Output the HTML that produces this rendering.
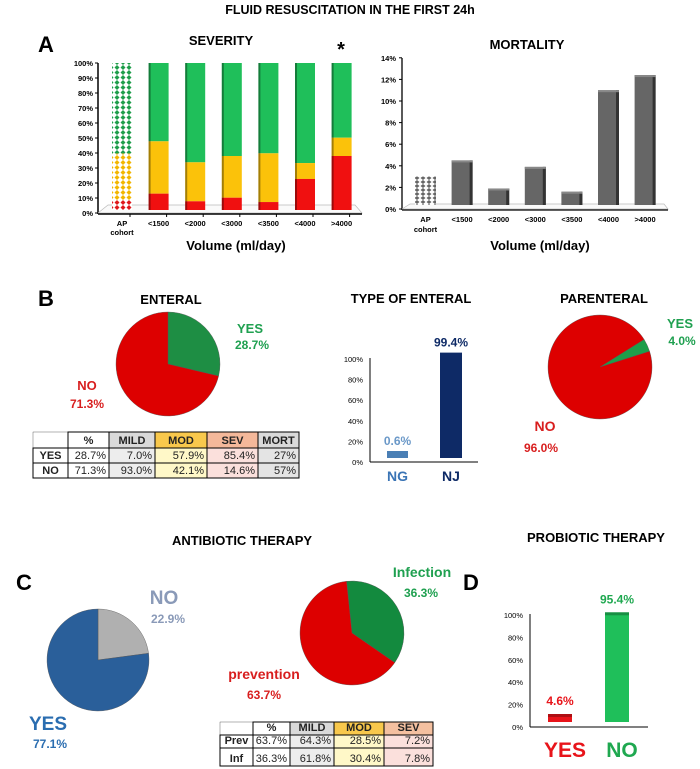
<!DOCTYPE html>
<html><head><meta charset="utf-8"><style>
body{margin:0;background:#fff}
svg{display:block;font-family:"Liberation Sans",Arial,sans-serif}
</style></head><body>
<svg id="fig" width="700" height="769" viewBox="0 0 700 769">
<defs>
<pattern id="dotG" width="6" height="5" patternUnits="userSpaceOnUse"><rect width="6" height="5" fill="#fff"/><path d="M3 0L5.5 2.5L3 5L0.5 2.5Z" fill="#1e9e4a"/></pattern>
<pattern id="dotO" width="6" height="5" patternUnits="userSpaceOnUse"><rect width="6" height="5" fill="#fff"/><path d="M3 0L5.5 2.5L3 5L0.5 2.5Z" fill="#f2b600"/></pattern>
<pattern id="dotR" width="6" height="5" patternUnits="userSpaceOnUse"><rect width="6" height="5" fill="#fff"/><path d="M3 0L5.5 2.5L3 5L0.5 2.5Z" fill="#e0181b"/></pattern>
<pattern id="dotK" width="6" height="4" patternUnits="userSpaceOnUse"><rect width="6" height="4" fill="#fff"/><path d="M3 0L5.5 2L3 4L0.5 2Z" fill="#666"/></pattern>
</defs>
<text x="350" y="14" text-anchor="middle" font-size="12.5" font-weight="bold">FLUID RESUSCITATION IN THE FIRST 24h</text>
<text x="38" y="52" font-size="22" font-weight="bold">A</text>
<text x="221" y="45" text-anchor="middle" font-size="13" font-weight="bold">SEVERITY</text>
<text x="341" y="56" text-anchor="middle" font-size="20" font-weight="bold">*</text>
<text x="527" y="49" text-anchor="middle" font-size="13" font-weight="bold">MORTALITY</text>
<g id="sev"></g>
<g id="mort"></g>

<text x="38" y="306" font-size="22" font-weight="bold">B</text>
<text x="171" y="304" text-anchor="middle" font-size="13" font-weight="bold">ENTERAL</text>
<text x="411" y="303" text-anchor="middle" font-size="13" font-weight="bold">TYPE OF ENTERAL</text>
<text x="604" y="303" text-anchor="middle" font-size="13" font-weight="bold">PARENTERAL</text>
<g id="pieEnt"></g>
<text x="250" y="333" text-anchor="middle" font-size="13" font-weight="bold" fill="#1fa050">YES</text>
<text x="252" y="349" text-anchor="middle" font-size="12" font-weight="bold" fill="#1fa050">28.7%</text>
<text x="87" y="390" text-anchor="middle" font-size="13" font-weight="bold" fill="#d81e1e">NO</text>
<text x="87" y="408" text-anchor="middle" font-size="12" font-weight="bold" fill="#d81e1e">71.3%</text>
<g id="tblB"></g>
<g id="typeEnt"></g>
<g id="piePar"></g>
<text x="680" y="328" text-anchor="middle" font-size="13" font-weight="bold" fill="#1fa050">YES</text>
<text x="682" y="345" text-anchor="middle" font-size="12" font-weight="bold" fill="#1fa050">4.0%</text>
<text x="545" y="431" text-anchor="middle" font-size="14" font-weight="bold" fill="#d81e1e">NO</text>
<text x="541" y="452" text-anchor="middle" font-size="12" font-weight="bold" fill="#d81e1e">96.0%</text>

<text x="242" y="545" text-anchor="middle" font-size="13" font-weight="bold">ANTIBIOTIC THERAPY</text>
<text x="596" y="542" text-anchor="middle" font-size="13" font-weight="bold">PROBIOTIC THERAPY</text>
<text x="16" y="590" font-size="22" font-weight="bold">C</text>
<text x="463" y="590" font-size="22" font-weight="bold">D</text>
<g id="pieAb"></g>
<text x="164" y="604" text-anchor="middle" font-size="19" font-weight="bold" fill="#8a9ab8">NO</text>
<text x="168" y="623" text-anchor="middle" font-size="12" font-weight="bold" fill="#8a9ab8">22.9%</text>
<text x="48" y="730" text-anchor="middle" font-size="19" font-weight="bold" fill="#2a6db0">YES</text>
<text x="50" y="748" text-anchor="middle" font-size="12" font-weight="bold" fill="#2a6db0">77.1%</text>
<g id="pieInf"></g>
<text x="422" y="577" text-anchor="middle" font-size="14" font-weight="bold" fill="#1fa050">Infection</text>
<text x="421" y="597" text-anchor="middle" font-size="12" font-weight="bold" fill="#1fa050">36.3%</text>
<text x="264" y="679" text-anchor="middle" font-size="14" font-weight="bold" fill="#d81e1e">prevention</text>
<text x="264" y="699" text-anchor="middle" font-size="12" font-weight="bold" fill="#d81e1e">63.7%</text>
<g id="tblC"></g>
<g id="prob"></g>
</svg>
<script>
const NS='http://www.w3.org/2000/svg';
function mk(p,tag,at,txt){const e=document.createElementNS(NS,tag);for(const k in at)e.setAttribute(k,at[k]);if(txt!==undefined)e.textContent=txt;p.appendChild(e);return e;}

// ---- Severity data ----
const sevCats=['AP','<1500','<2000','<3000','<3500','<4000','>4000'];
const sevSevere=[8.4,12.9,7.8,10.2,7.3,22.7,38];
const sevModerate=[31.2,34.9,26,27.8,32.5,10.6,12.2];
const sevTicks=[0,10,20,30,40,50,60,70,80,90,100];
// ---- Mortality data ----
const mortCats=['AP','<1500','<2000','<3000','<3500','<4000','>4000'];
const mortValues=[3.0,4.5,1.9,3.9,1.6,11.0,12.4];
const mortTicks=[0,2,4,6,8,10,12,14];
// ---- Pies ----
const enteralValues=[28.7,71.3];
const parenteralValues=[4.0,96.0];
const antibioticValues=[22.9,77.1];
const indicationValues=[36.3,63.7];
// ---- Bars ----
const typeCats=['NG','NJ'];
const typeValues=[0.6,99.4];
const typeTicks=[0,20,40,60,80,100];
const probCats=['YES','NO'];
const probValues=[4.6,95.4];

// Severity chart
(function(){
 const g=document.getElementById('sev');
 const y=v=>213-v*1.5, x0=98, step=36.6, bw=20;
 const bx=i=>112+i*step;
 mk(g,'line',{x1:x0,y1:63,x2:x0,y2:214,stroke:'#000','stroke-width':1.5});
 mk(g,'polygon',{points:'98,213 108,205 355,205 362,213',fill:'#fafafa',stroke:'#bbb','stroke-width':0.7});
 mk(g,'line',{x1:x0,y1:214,x2:362,y2:214,stroke:'#000','stroke-width':1.5});
 sevTicks.forEach(t=>{
  const tk=mk(g,'text',{x:x0-5,y:y(t)+3,'text-anchor':'end','font-size':7.5,'font-weight':'bold'},t+'%');
  
  
  mk(g,'line',{x1:x0-3,y1:y(t),x2:x0,y2:y(t),stroke:'#000'});
 });
 sevCats.forEach((c,i)=>{
  const s=sevSevere[i],m=sevModerate[i],x=bx(i);
  const pat=i===0;
  const r1=mk(g,'rect',{x:x,y:y(100),width:bw,height:y(s+m)-y(100),fill:pat?'url(#dotG)':'#1fbf5a'});
  
  
  const r2=mk(g,'rect',{x:x,y:y(s+m),width:bw,height:y(s)-y(s+m),fill:pat?'url(#dotO)':'#fbc20a'});
  
  
  const r3=mk(g,'rect',{x:x,y:y(s),width:bw,height:y(0)-y(s)-3,fill:pat?'url(#dotR)':'#f01010'});
  
  
  if(!pat) mk(g,'rect',{x:x,y:y(100),width:2,height:y(0)-y(100)-3,fill:'#000',opacity:0.35});
  mk(g,'line',{x1:x+bw/2+8,y1:214,x2:x+bw/2+8,y2:217,stroke:'#000'});
  const l=mk(g,'text',{x:x+bw/2,y:226,'text-anchor':'middle','font-size':7.5,'font-weight':'bold'},c);
  
  
 });
 mk(g,'text',{x:x0+24,y:235,'text-anchor':'middle','font-size':7.5,'font-weight':'bold'},'cohort');
 const t=mk(g,'text',{x:236,y:250,'text-anchor':'middle','font-size':13,'font-weight':'bold'},'Volume (ml/day)');
 
 
})();

// Mortality chart
(function(){
 const g=document.getElementById('mort');
 const y=v=>209-v*10.8, x0=402, step=36.6, bw=21;
 const bx=i=>415+i*step;
 mk(g,'line',{x1:x0,y1:58,x2:x0,y2:210,stroke:'#000','stroke-width':1.3});
 mk(g,'polygon',{points:'402,209 410,204 664,204 668,209',fill:'#fafafa',stroke:'#bbb','stroke-width':0.7});
 mk(g,'line',{x1:x0,y1:210,x2:668,y2:210,stroke:'#000','stroke-width':1.3});
 mortTicks.forEach(t=>{
  const tk=mk(g,'text',{x:x0-6,y:y(t)+3,'text-anchor':'end','font-size':7.5,'font-weight':'bold'},t+'%');
  
  
  mk(g,'line',{x1:x0-3,y1:y(t),x2:x0,y2:y(t),stroke:'#000'});
 });
 mortCats.forEach((c,i)=>{
  const v=mortValues[i],x=bx(i);
  const r=mk(g,'rect',{x:x,y:y(v),width:bw,height:y(0)-y(v)-4,fill:i===0?'url(#dotK)':'#666'});
  
  
  if(i>0){mk(g,'rect',{x:x+bw-3,y:y(v),width:3,height:y(0)-y(v)-4,fill:'#333'});mk(g,'rect',{x:x,y:y(v),width:bw,height:2,fill:'#888'});}
  const l=mk(g,'text',{x:x+bw/2,y:222,'text-anchor':'middle','font-size':7.5,'font-weight':'bold'},c);
  
  
 });
 mk(g,'text',{x:bx(0)+bw/2,y:232,'text-anchor':'middle','font-size':7.5,'font-weight':'bold'},'cohort');
 const t=mk(g,'text',{x:540,y:250,'text-anchor':'middle','font-size':13,'font-weight':'bold'},'Volume (ml/day)');
 
 
})();

// Pies
function pie(id,cx,cy,r,vals,cols,startDeg,names){
 const g=document.getElementById(id);
 const tot=vals.reduce((a,b)=>a+b,0);
 let a=startDeg*Math.PI/180;
 vals.forEach((v,i)=>{
  const a2=a+v/tot*2*Math.PI;
  const p=(an)=>[cx+r*Math.sin(an),cy-r*Math.cos(an)];
  const [x1,y1]=p(a),[x2,y2]=p(a2);
  const large=(a2-a)>Math.PI?1:0;
  const s=mk(g,'path',{d:`M${cx},${cy}L${x1},${y1}A${r},${r} 0 ${large} 1 ${x2},${y2}Z`,fill:cols[i],stroke:'#555','stroke-width':0.4});
  
  
  a=a2;
 });
}
pie('pieEnt',168,364,52,enteralValues,['#1e8e44','#dd0000'],0,['slice-yes','slice-no']);
pie('piePar',600,367,52,parenteralValues,['#1e9e4a','#dd0000'],58,['slice-yes','slice-no']);
pie('pieAb',98,660,51,antibioticValues,['#b0b0b0','#2a5f9a'],0,['slice-no','slice-yes']);
pie('pieInf',352,633,52,indicationValues,['#138a3e','#dd0000'],-6,['slice-infection','slice-prevention']);

// Type of enteral
(function(){
 const g=document.getElementById('typeEnt');
 const y=v=>462-v*1.03, x0=370;
 mk(g,'line',{x1:x0,y1:358,x2:x0,y2:462,stroke:'#000'});
 mk(g,'line',{x1:x0,y1:462,x2:478,y2:462,stroke:'#000'});
 typeTicks.forEach(t=>{
  const tk=mk(g,'text',{x:x0-7,y:y(t)+3,'text-anchor':'end','font-size':7.5},t+'%');
  
  
 });
 const cols=['#4a7fb5','#0e2a66'], xs=[387,440], ws=[21,22];
 typeCats.forEach((c,i)=>{
  const v=typeValues[i];
  const top=Math.min(y(v)-4,454);
  const r=mk(g,'rect',{x:xs[i],y:top-3,width:ws[i],height:458-top+3,fill:cols[i]});
  
  
  const vl=mk(g,'text',{x:xs[i]+ws[i]/2,y:top-9,'text-anchor':'middle','font-size':12,'font-weight':'bold',fill:i?'#0e2a66':'#6a98c8'},v+'%');
  
  
  const l=mk(g,'text',{x:xs[i]+ws[i]/2,y:481,'text-anchor':'middle','font-size':14,'font-weight':'bold',fill:i?'#0e2a66':'#3a74b5'},c);
  
  
 });
})();

// Probiotic
(function(){
 const g=document.getElementById('prob');
 const y=v=>727-v*1.12, x0=530;
 const yb=v=>722-v*1.15;
 mk(g,'line',{x1:x0,y1:614,x2:x0,y2:727,stroke:'#000'});
 mk(g,'line',{x1:x0,y1:727,x2:648,y2:727,stroke:'#000'});
 typeTicks.forEach(t=>{
  const tk=mk(g,'text',{x:x0-7,y:y(t)+3,'text-anchor':'end','font-size':7.5},t+'%');
  
  
 });
 const cols=['#e8141a','#1fbf5a'], lc=['#e8141a','#1fa850'], xs=[548,605];
 probCats.forEach((c,i)=>{
  const v=probValues[i];
  const top=Math.min(yb(v),714);
  const r=mk(g,'rect',{x:xs[i],y:top,width:24,height:722-top,fill:cols[i]});
  
  
  mk(g,'rect',{x:xs[i],y:top,width:24,height:3,fill:'#000',opacity:0.25});
  const vl=mk(g,'text',{x:xs[i]+12,y:top-9,'text-anchor':'middle','font-size':12,'font-weight':'bold',fill:lc[i]},v+'%');
  
  
  const l=mk(g,'text',{x:xs[i]+17,y:757,'text-anchor':'middle','font-size':21,'font-weight':'bold',fill:lc[i]},c);
  
  
 });
})();

// Tables
function table(id,cols,rows,data,fills){
 const g=document.getElementById(id);
 for(let r=0;r<rows.length-1;r++){
  for(let c=0;c<cols.length-1;c++){
   const f=fills[r][c];
   mk(g,'rect',{x:cols[c],y:rows[r],width:cols[c+1]-cols[c],height:rows[r+1]-rows[r],fill:f,stroke:'#000','stroke-width':r===0&&c===0?0.3:1});
   const t=data[r][c];
   if(t){
    const bold=r===0||c===0;
    const el=mk(g,'text',{x:(c===0||r===0)?(cols[c]+cols[c+1])/2:cols[c+1]-3,y:rows[r+1]-4,'text-anchor':(c===0||r===0)?'middle':'end','font-size':11,'font-weight':bold?'bold':'normal',fill:'#222'},t);
    
    
   }
  }
 }
}
table('tblB',[33,68,109,155,207,258,299],[432,448,463,478],
 [['','%','MILD','MOD','SEV','MORT'],['YES','28.7%','7.0%','57.9%','85.4%','27%'],['NO','71.3%','93.0%','42.1%','14.6%','57%']],
 [['#fff','#fff','#d9d9d9','#f8c84c','#f4b89a','#d9d9d9'],['#fff','#fff','#ededed','#fff8c8','#fbe0dc','#e4e4e4'],['#fff','#fff','#ededed','#fff8c8','#fbe0dc','#e4e4e4']]);
table('tblC',[220,253,290,334,384,433],[722,735,748,766],
 [['','%','MILD','MOD','SEV'],['Prev','63.7%','64.3%','28.5%','7.2%'],['Inf','36.3%','61.8%','30.4%','7.8%']],
 [['#fff','#fff','#d9d9d9','#f8c84c','#f4c0a0'],['#fff','#fff','#ededed','#fff8c8','#fbe0dc'],['#fff','#fff','#ededed','#fff8c8','#fbe0dc']]);
</script>
</body></html>
